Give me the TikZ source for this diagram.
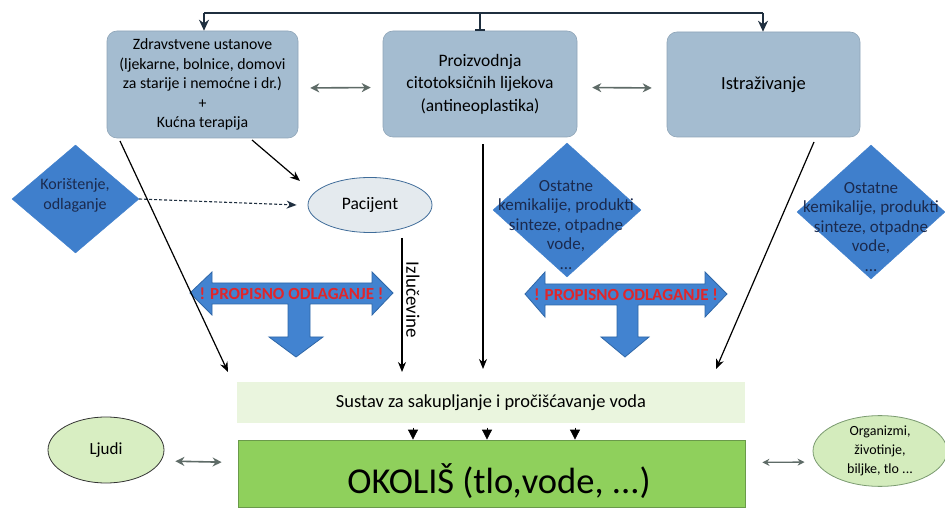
\documentclass[tikz,border=0pt]{standalone}
\usepackage{fontspec}
\setmainfont{Carlito}
\usetikzlibrary{arrows.meta,shapes.geometric,calc}
\definecolor{boxfill}{HTML}{A4BCD0}
\definecolor{boxline}{HTML}{8FA5B8}
\definecolor{diafill}{HTML}{3F7FCC}
\definecolor{diatext}{HTML}{1B2A4E}
\definecolor{bigfill}{HTML}{4283D0}
\definecolor{bigline}{HTML}{2F67A8}
\definecolor{redtxt}{HTML}{E0262B}
\definecolor{pacfill}{HTML}{E4EAEE}
\definecolor{pacline}{HTML}{3F6C99}
\definecolor{susfill}{HTML}{EAF5DE}
\definecolor{okofill}{HTML}{8FD05C}
\definecolor{okoline}{HTML}{6A9A4A}
\definecolor{ljfill}{HTML}{D8EEC2}
\definecolor{orgfill}{HTML}{D4ECBD}
\definecolor{orgline}{HTML}{7A9A70}
\definecolor{grayarr}{HTML}{5E6B67}
\definecolor{topcol}{HTML}{1F2F3F}
\begin{document}
\begin{tikzpicture}[x=1pt,y=-1pt,
  mainbox/.style={rectangle,rounded corners=10pt,fill=boxfill,draw=boxline,line width=0.6pt,align=center,inner sep=0pt,text=black},
  diabox/.style={diamond,fill=diafill,draw=diafill,inner sep=0pt},
  diatxt/.style={align=center,text=diatext,font=\fontsize{17}{19.5}\selectfont,inner sep=0pt},
  conn/.style={draw=black,line width=1.2pt,-{Stealth[length=10pt,width=8pt]}},
  toparr/.style={draw=topcol,line width=1.3pt},
  grayboth/.style={draw=grayarr,line width=1.6pt,{Stealth[length=9pt,width=9pt]}-{Stealth[length=9pt,width=9pt]}},
  bigarrow/.style={fill=bigfill,draw=bigline,line width=0.8pt,line join=miter},
  redlabel/.style={text=redtxt,font=\fontsize{17}{19}\selectfont\bfseries,inner sep=0pt},
  smalltri/.style={draw=black,line width=0.8pt,-{Triangle[length=10pt,width=10pt]},shorten <=5pt}
]
\useasboundingbox (0,0) rectangle (945,510);
\fill[white] (0,0) rectangle (945,510);

% top boxes
\node[mainbox,minimum width=191pt,minimum height=107pt,font=\fontsize{15.8}{19.5}\selectfont] (b1) at (202.5,84.5)
  {Zdravstvene ustanove\\(ljekarne, bolnice, domovi\\za starije i nemoćne i dr.)\\+\\Kućna terapija};
\node[mainbox,minimum width=194pt,minimum height=106pt,font=\fontsize{17.5}{22.5}\selectfont] (b2) at (480,84)
  {Proizvodnja\\citotoksičnih lijekova\\(antineoplastika)};
\node[mainbox,minimum width=193pt,minimum height=105pt,font=\fontsize{18.5}{21}\selectfont] (b3) at (763.5,84.5)
  {Istraživanje};

% top connector
\coordinate (tl) at (204,13);
\coordinate (tr) at (763,13);
\draw[toparr] (tl) -- (tr);
\draw[toparr,-{Stealth[length=11pt,width=10pt]}] (tl) -- (tl |- b1.north);
\draw[toparr,-{Stealth[length=11pt,width=10pt]}] (tr) -- (tr |- b3.north);
\draw[toparr,-{Bar[width=10pt]}] (b2.north |- tl) -- (b2.north);

% gray double arrows between boxes
\draw[grayboth,shorten <=12pt,shorten >=12pt] ([yshift=-3.5pt]b1.east) -- ([yshift=-3.5pt]b2.west);
\draw[grayboth,shorten <=15pt,shorten >=15pt] ([yshift=-3.5pt]b2.east) -- ([yshift=-3.5pt]b3.west);

% diamonds
\node[diabox,minimum width=127pt,minimum height=108pt] (d1) at (75.5,199) {};
\node[diatxt,font=\fontsize{16}{20}\selectfont] (d1t) at (75,195) {Korištenje,\\odlaganje};
\node[diabox,minimum width=148pt,minimum height=134pt] (d2) at (567,210) {};
\node[diatxt] (d2t) at (566,225) {Ostatne\\kemikalije, produkti\\sinteze, otpadne\\vode,\\...};
\node[diabox,minimum width=148pt,minimum height=134pt] (d3) at (871,212) {};
\node[diatxt] (d3t) at (871,227) {Ostatne\\kemikalije, produkti\\sinteze, otpadne\\vode,\\...};

% Pacijent
\node[ellipse,minimum width=124pt,minimum height=55pt,fill=pacfill,draw=pacline,line width=0.8pt,inner sep=0pt,font=\fontsize{17.5}{20}\selectfont] (pac) at (370,205) {Pacijent};

% connectors to Pacijent
\draw[conn,densely dashed,draw=topcol,line width=1.1pt] (d1.east) -- ([xshift=-11pt]pac.west);
\coordinate (p1s) at (252,140);
\coordinate (p1e) at (300,181);
\draw[conn] (p1s) -- (p1e);

% big arrows
\path[bigarrow] (190,293) -- (212,272) -- (212,283) -- (372,283) -- (372,272) -- (393,293)
  -- (372,315) -- (372,304) -- (310,304) -- (310,337) -- (323,337) -- (296,357) -- (269,337)
  -- (288,337) -- (288,304) -- (212,304) -- (212,315) -- cycle;
\node[redlabel] (r1) at (291.5,294) {! PROPISNO ODLAGANJE !};
\path[bigarrow] (525,294) -- (545,272) -- (545,284) -- (705,284) -- (705,272) -- (727,294)
  -- (705,317) -- (705,305) -- (638,305) -- (638,337) -- (649,337) -- (625,357) -- (601,337)
  -- (617,337) -- (617,305) -- (545,305) -- (545,317) -- cycle;
\node[redlabel] (r2) at (626,295) {! PROPISNO ODLAGANJE !};

% Sustav + Okolis
\node[rectangle,fill=susfill,minimum width=508pt,minimum height=40pt,inner sep=0pt,font=\fontsize{18.4}{20}\selectfont] (sus) at (491,402.5) {Sustav za sakupljanje i pročišćavanje voda};
\node[rectangle,fill=okofill,draw=okoline,line width=0.8pt,minimum width=507pt,minimum height=67pt,inner sep=0pt] (oko) at (491.5,473.5) {};
\node[inner sep=0pt,font=\fontsize{36.5}{40}\selectfont] (okot) at (499,481) {OKOLIŠ (tlo,vode, ...)};

\coordinate (s1) at ([xshift=-78pt]sus.south);
\coordinate (s2) at ([xshift=-4pt]sus.south);
\coordinate (s3) at ([xshift=84pt]sus.south);
\draw[smalltri] (s1) -- (s1 |- oko.north);
\draw[smalltri] (s2) -- (s2 |- oko.north);
\draw[smalltri] (s3) -- (s3 |- oko.north);

% long connectors
\coordinate (a1s) at (120,141);
\coordinate (a1e) at (228,372);
\draw[conn] (a1s) -- (a1e);
\coordinate (a2e) at (483,369);
\draw[conn,shorten <=7pt] (b2.south -| a2e) -- (a2e);
\coordinate (a3s) at (814,142);
\coordinate (a3e) at (716,369);
\draw[conn] (a3s) -- (a3e);

% Izlucevine
\coordinate (ize) at (402,372);
\draw[conn] (pac.south -| ize) ++(0,5) -- (ize);
\node[rotate=-90,inner sep=0pt,font=\fontsize{19}{21}\selectfont] (izl) at (413,300) {Izlučevine};

% Ljudi, Organizmi
\node[ellipse,minimum width=116pt,minimum height=66pt,fill=ljfill,draw=black!80,line width=0.8pt,inner sep=0pt,font=\fontsize{17}{19}\selectfont] (lj) at (106,450) {Ljudi};
\node[ellipse,minimum width=134pt,minimum height=68pt,fill=orgfill,draw=orgline,line width=0.8pt,inner sep=0pt,align=center,font=\fontsize{14}{19}\selectfont] (org) at (880,451) {Organizmi,\\životinje,\\biljke, tlo ...};
\draw[grayboth,shorten <=11pt,shorten >=16pt] ([yshift=-11pt]lj.east) -- ([yshift=11pt]oko.west);
\draw[grayboth,line width=1.3pt,{Stealth[length=7pt,width=7pt]}-{Stealth[length=7pt,width=7pt]},shorten <=17pt,shorten >=8pt] ([yshift=11pt]oko.east) -- ([yshift=-11pt]org.west);
\end{tikzpicture}
\end{document}
